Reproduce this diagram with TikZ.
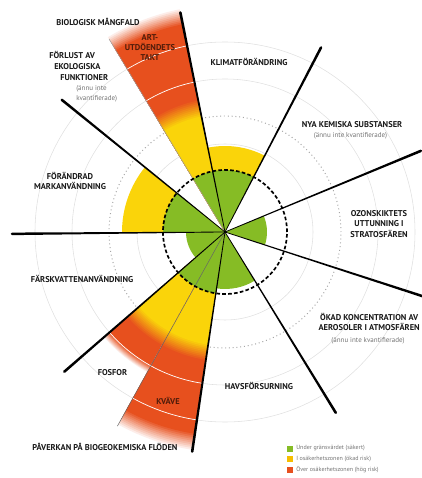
\documentclass[tikz,border=0pt]{standalone}
\usepackage{fontspec}
\setmainfont{PT Sans}
\usepackage{tikz}

\definecolor{grn}{RGB}{134,188,37}
\definecolor{ylw}{RGB}{250,212,10}
\definecolor{rd}{RGB}{231,80,30}
\definecolor{keyylw}{RGB}{246,190,0}

\def\fillsector[#1](#2:#3:#4){\fill[#1] (0, 0) -- (#2:#4) arc (#2:#3:#4) -- cycle;}
\def\spoke(#1:#2){\fill[rotate=#1] (0, -0.35) -- (#2, -1.3) arc (-90:90:1.3) -- (0, 0.35) -- cycle;}

\begin{document}
\begin{tikzpicture}[x=0.025cm, y=0.025cm,
		lbl/.style={font=\bfseries\fontsize{6}{7.3}\selectfont, text=black!90, align=center, inner sep=0pt},
		inlbl/.style={lbl, text=rd!35!black},
		note/.style={font=\fontsize{5}{6.2}\selectfont, text=black!55, align=center, inner sep=0pt},
		keytext/.style={font=\fontsize{4.3}{5}\selectfont, text=black!55, anchor=west, inner sep=0pt}]
			%%%%% START %%%%%
			
			\useasboundingbox (-225, -246) rectangle (196, 232);
			
			\draw[line width=0.4pt, color=black!12] (0, 0) circle (88);
			\draw[line width=0.4pt, color=black!12] (0, 0) circle (153);
			\draw[line width=0.4pt, color=black!12] (0, 0) circle (190);
			\draw[line width=0.7pt, color=black!35, dotted] (0, 0) circle (116);
			
			\fillsector[ylw](62.5:101.5:86);
			\fillsector[ylw](141:180.5:103);
			
			% art-utdoendets takt
			\foreach \k in {0,...,10} {\pgfmathsetmacro\rr{229-1.7*\k} \fillsector[rd!\k0!white](101.5:121:\rr);}
			\foreach \k in {0,...,10} {\pgfmathsetmacro\rr{136-1.8*\k} \fillsector[ylw!\k0!rd](101.5:121:\rr);}
			% fosfor
			\foreach \k in {0,...,10} {\pgfmathsetmacro\rr{161-0.8*\k} \fillsector[rd!\k0!white](221:241:\rr);}
			\foreach \k in {0,...,10} {\pgfmathsetmacro\rr{131-1.7*\k} \fillsector[ylw!\k0!rd](221:241:\rr);}
			% kvave
			\foreach \k in {0,...,10} {\pgfmathsetmacro\rr{222-1.8*\k} \fillsector[rd!\k0!white](241:261.5:\rr);}
			\foreach \k in {0,...,10} {\pgfmathsetmacro\rr{131-1.7*\k} \fillsector[ylw!\k0!rd](241:261.5:\rr);}
			
			\fillsector[grn](62.5:101.5:62);
			\fillsector[grn](101.5:121:62);
			\fillsector[grn](141:180.5:62);
			\fillsector[grn](180.5:221:39);
			\fillsector[grn](221:261.5:62);
			\fillsector[grn](261.5:301.5:57);
			\fillsector[grn](-18:22.5:42);
			
			\draw[line width=0.5pt, color=white] (101.5:153) arc (101.5:121:153);
			\draw[line width=0.5pt, color=white] (101.5:190) arc (101.5:121:190);
			\draw[line width=0.5pt, color=white] (221:153) arc (221:261.5:153);
			\draw[line width=0.5pt, color=white] (241:190) arc (241:261.5:190);
			
			\draw[line width=0.35pt, color=black!40] (0, 0) -- (121:225);
			\draw[line width=0.35pt, color=black!60] (0, 0) -- (241:222);
			
			\spoke(22.5:212);
			\spoke(62.5:208);
			\spoke(101.5:224);
			\spoke(141:210);
			\spoke(180.5:213);
			\spoke(221:213);
			\spoke(261.5:222);
			\spoke(301.5:212);
			\spoke(342:212);
			
			\draw[line width=1.2pt, dash pattern=on 2.6pt off 1.6pt] (0, 0) circle (62);
			
			\node[lbl] (bio) at (-127, 210.5) {BIOLOGISK MÅNGFALD};
			\node[inlbl] (art) at (-75, 184.5) {ART-\\UTDÖENDETS\\TAKT};
			\node[lbl, anchor=west] (forlust1) at (-176, 177) {FÖRLUST AV};
			\node[lbl, anchor=west] (forlust2) at (-171, 165.3) {EKOLOGISKA};
			\node[lbl, anchor=west] (forlust3) at (-165, 154.7) {FUNKTIONER};
			\node[note, anchor=west] (forlust4) at (-149, 143.7) {(ännu inte};
			\node[note, anchor=west] (forlust5) at (-149, 133.7) {kvantifierade)};
			\node[lbl] (klimat) at (24, 170) {KLIMATFÖRÄNDRING};
			\node[lbl] (kemi) at (127, 107) {NYA KEMISKA SUBSTANSER};
			\node[note] (kemi2) at (125.5, 96) {(ännu inte kvantifierade)};
			\node[lbl] (mark) at (-155, 51) {FÖRÄNDRAD\\MARKANVÄNDNING};
			\node[lbl] (vatten) at (-143, -47) {FÄRSKVATTENANVÄNDNING};
			\node[lbl] (ozon) at (154, 8) {OZONSKIKTETS\\UTTUNNING I\\STRATOSFÄREN};
			\node[lbl, anchor=east] (aerosol) at (195, -90) {ÖKAD KONCENTRATION AV\\AEROSOLER I ATMOSFÄREN};
			\node[note] (aerosol2) at (143, -109) {(ännu inte kvantifierade)};
			\node[lbl] (hav) at (34, -153.5) {HAVSFÖRSURNING};
			\node[lbl] (fosfor) at (-112.5, -141) {FOSFOR};
			\node[inlbl] (kvave) at (-57, -169) {KVÄVE};
			\node[lbl] (flode) at (-120, -215) {PÅVERKAN PÅ BIOGEOKEMISKA FLÖDEN};
			
			\fill[grn] (62, -219.5) rectangle (68, -213.5);
			\node[keytext] (key1) at (71, -216.5) {Under gränsvärdet (säkert)};
			\fill[keyylw] (62, -230) rectangle (68, -224);
			\node[keytext] (key2) at (71, -227) {I osäkerhetszonen (ökad risk)};
			\fill[rd] (62, -241) rectangle (68, -235);
			\node[keytext] (key3) at (71, -238) {Över osäkerhetszonen (hög risk)};
			
			%%%%% END %%%%%
		\end{tikzpicture}
\end{document}
